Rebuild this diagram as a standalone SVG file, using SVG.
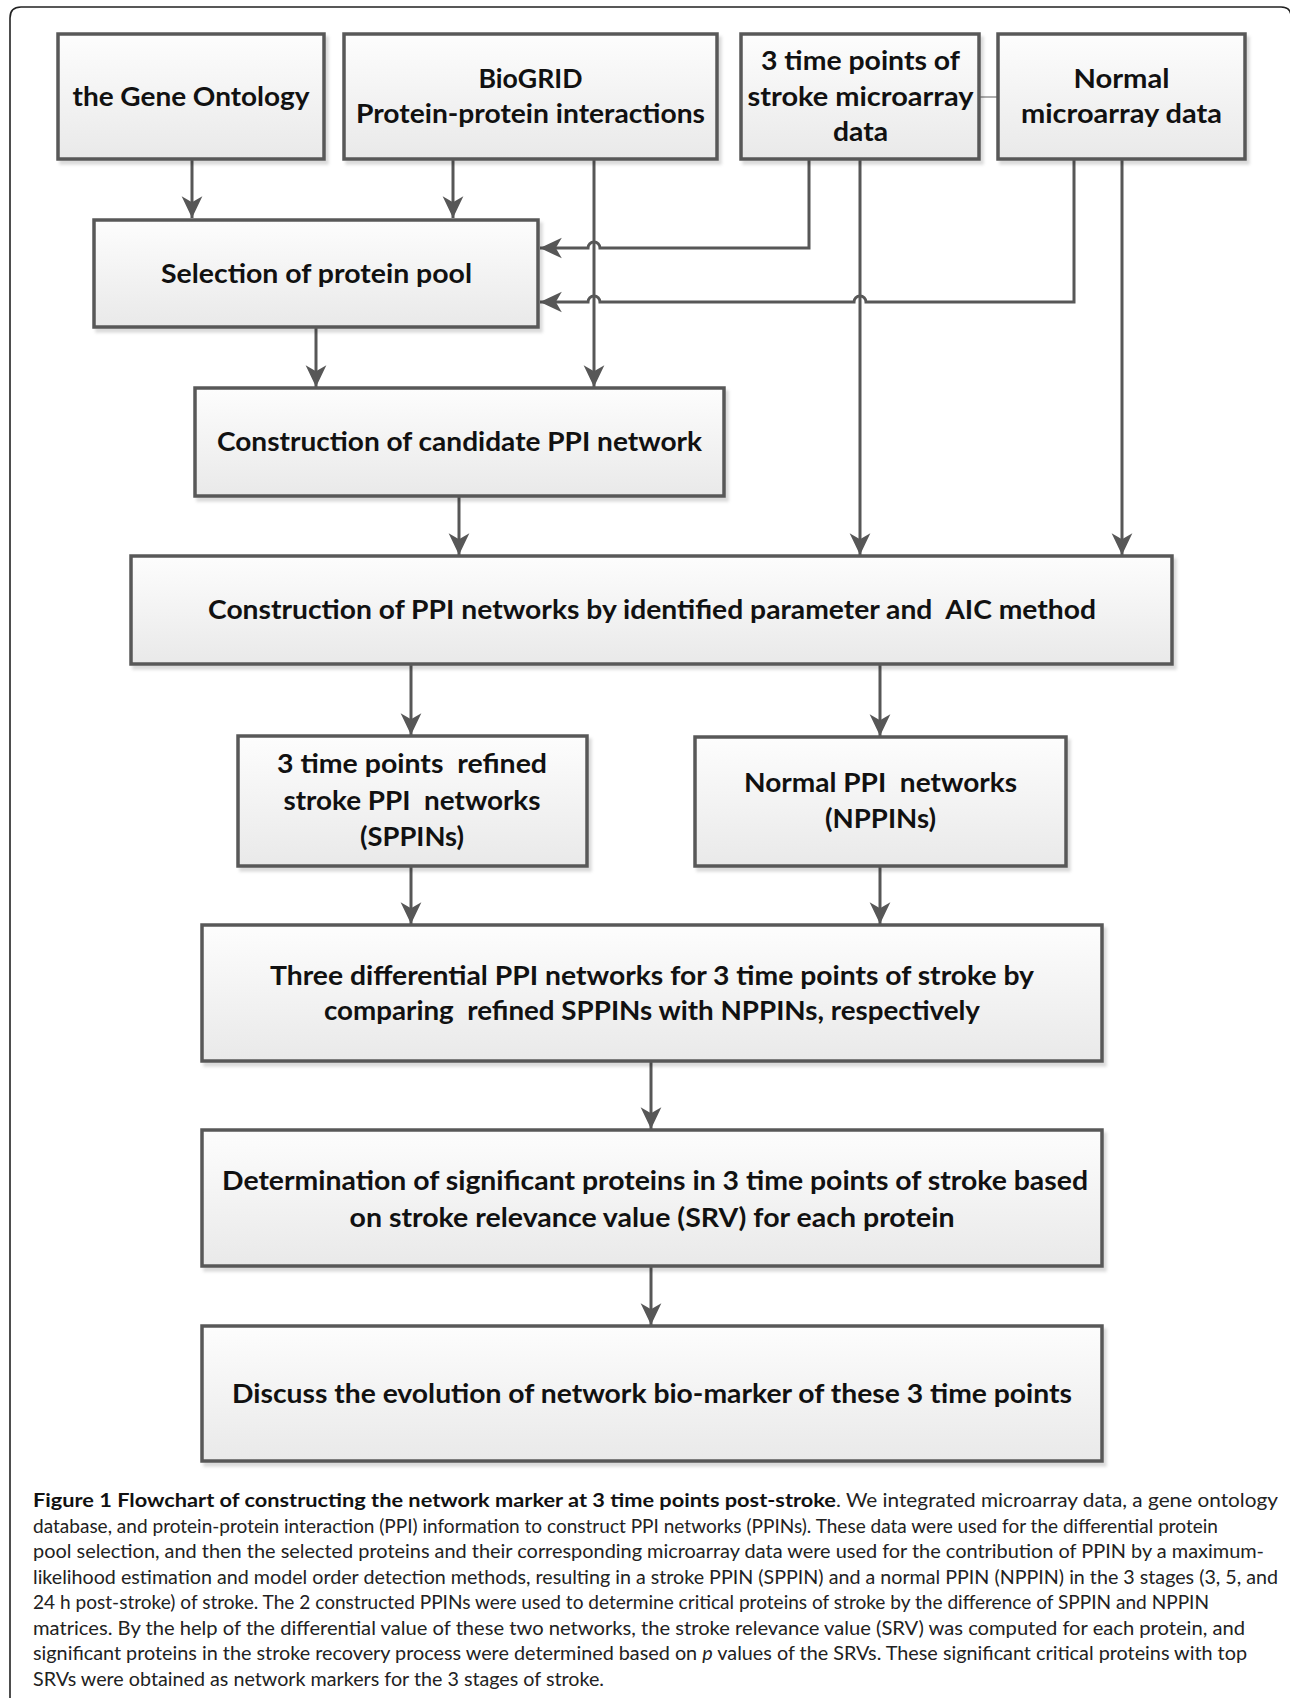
<svg xmlns="http://www.w3.org/2000/svg" width="1290" height="1698" viewBox="0 0 1290 1698">
  <style>
    .box { fill: url(#boxGrad); stroke: #585858; stroke-width: 3.5; filter: url(#shadow); }
    .lbl { font-family: Lato, "Liberation Sans", sans-serif; font-weight: bold; font-size: 27px; fill: #111; text-anchor: middle; white-space: pre; }
    .wire { fill: none; stroke: #575757; stroke-width: 3; }
    .arrow { fill: none; stroke: #575757; stroke-width: 3; marker-end: url(#head); }
    .cap { font-family: Lato, "Liberation Sans", sans-serif; font-size: 18.5px; fill: #222; }
    .capb { font-family: Lato, "Liberation Sans", sans-serif; font-size: 18.5px; font-weight: bold; fill: #111; }
  </style>
  <defs>
    <linearGradient id="boxGrad" x1="0" y1="0" x2="0" y2="1">
      <stop offset="0" stop-color="#fdfdfd"/>
      <stop offset="1" stop-color="#e9e9e9"/>
    </linearGradient>
    <filter id="shadow" x="-5%" y="-5%" width="115%" height="120%">
      <feDropShadow dx="3" dy="4" stdDeviation="1.5" flood-color="#000" flood-opacity="0.14"/>
    </filter>
    <marker id="head" markerUnits="userSpaceOnUse" markerWidth="24" markerHeight="24" viewBox="-21 -11 22 22" refX="0" refY="0" orient="auto">
      <path d="M0,0 L-20,-9.5 L-14.5,0 L-20,9.5 Z" fill="#575757"/>
    </marker>
  </defs>

  <rect width="1290" height="1698" fill="#fff"/>
  <!-- outer figure frame -->
  <path d="M10,1698 L10,18 Q10,7 21,7 L1281,7 Q1290,7 1291,15" fill="none" stroke="#222" stroke-width="1.6"/>

  <!-- connectors -->
  <g id="connectors">
    <path class="arrow" d="M192,159 V218"/>
    <path class="arrow" d="M453,159 V218"/>
    <path class="arrow" d="M594,159 V387"/>
    <path class="arrow" d="M809,159 V248 H600 A6,6 0 0 0 588,248 H540"/>
    <path class="arrow" d="M1074,159 V302 H866 A6,6 0 0 0 854,302 H600 A6,6 0 0 0 588,302 H540"/>
    <path class="arrow" d="M860,159 V555"/>
    <path class="arrow" d="M1122,159 V555"/>
    <path class="wire" d="M979,97 H998" style="stroke-width:1.2;stroke:#777"/>
    <path class="arrow" d="M316,327 V387"/>
    <path class="arrow" d="M459,496 V555"/>
    <path class="arrow" d="M411,664 V735"/>
    <path class="arrow" d="M880,664 V736"/>
    <path class="arrow" d="M411,866 V924"/>
    <path class="arrow" d="M880,866 V924"/>
    <path class="arrow" d="M651,1061 V1129"/>
    <path class="arrow" d="M651,1266 V1325"/>
  </g>

  <g id="gene-ontology">
    <rect class="box" x="58" y="34" width="266" height="125"/>
    <text class="lbl" x="191" y="106" textLength="237" lengthAdjust="spacingAndGlyphs">the Gene Ontology</text>
  </g>
  <g id="biogrid">
    <rect class="box" x="344" y="34" width="373" height="125"/>
    <text class="lbl" x="530.5" y="87.5" textLength="104" lengthAdjust="spacingAndGlyphs">BioGRID</text>
    <text class="lbl" x="530.5" y="123" textLength="349" lengthAdjust="spacingAndGlyphs">Protein-protein interactions</text>
  </g>
  <g id="stroke-microarray">
    <rect class="box" x="741" y="34" width="238" height="125"/>
    <text class="lbl" x="860.5" y="70" textLength="199" lengthAdjust="spacingAndGlyphs">3 time points of</text>
    <text class="lbl" x="860.5" y="106" textLength="226" lengthAdjust="spacingAndGlyphs">stroke microarray</text>
    <text class="lbl" x="860.5" y="141" textLength="55" lengthAdjust="spacingAndGlyphs">data</text>
  </g>
  <g id="normal-microarray">
    <rect class="box" x="998" y="34" width="247" height="125"/>
    <text class="lbl" x="1121.5" y="87.5" textLength="96" lengthAdjust="spacingAndGlyphs">Normal</text>
    <text class="lbl" x="1121.5" y="123" textLength="201" lengthAdjust="spacingAndGlyphs">microarray data</text>
  </g>
  <g id="protein-pool">
    <rect class="box" x="94" y="220" width="444" height="107"/>
    <text class="lbl" x="316.5" y="282.5" textLength="311" lengthAdjust="spacingAndGlyphs">Selection of protein pool</text>
  </g>
  <g id="candidate-ppi">
    <rect class="box" x="195" y="388" width="529" height="108"/>
    <text class="lbl" x="459.5" y="450.5" textLength="485" lengthAdjust="spacingAndGlyphs">Construction of candidate PPI network</text>
  </g>
  <g id="aic-networks">
    <rect class="box" x="131" y="556" width="1041" height="108"/>
    <text class="lbl" x="652" y="618.5" textLength="888" lengthAdjust="spacingAndGlyphs">Construction of PPI networks by identified parameter and  AIC method</text>
  </g>
  <g id="sppins">
    <rect class="box" x="238" y="736" width="349" height="130"/>
    <text class="lbl" x="412" y="773" textLength="270" lengthAdjust="spacingAndGlyphs">3 time points  refined</text>
    <text class="lbl" x="412" y="809.5" textLength="257" lengthAdjust="spacingAndGlyphs">stroke PPI  networks</text>
    <text class="lbl" x="412" y="845.5" textLength="104" lengthAdjust="spacingAndGlyphs">(SPPINs)</text>
  </g>
  <g id="nppins">
    <rect class="box" x="695" y="737" width="371" height="129"/>
    <text class="lbl" x="880.5" y="791.5" textLength="273" lengthAdjust="spacingAndGlyphs">Normal PPI  networks</text>
    <text class="lbl" x="880.5" y="827.5" textLength="111" lengthAdjust="spacingAndGlyphs">(NPPINs)</text>
  </g>
  <g id="differential-ppi">
    <rect class="box" x="202" y="925" width="900" height="136"/>
    <text class="lbl" x="652" y="984.5" textLength="764" lengthAdjust="spacingAndGlyphs">Three differential PPI networks for 3 time points of stroke by</text>
    <text class="lbl" x="652" y="1020" textLength="656" lengthAdjust="spacingAndGlyphs">comparing  refined SPPINs with NPPINs, respectively</text>
  </g>
  <g id="significant-proteins">
    <rect class="box" x="202" y="1130" width="900" height="136"/>
    <text class="lbl" x="655" y="1190" textLength="866" lengthAdjust="spacingAndGlyphs">Determination of significant proteins in 3 time points of stroke based</text>
    <text class="lbl" x="652" y="1227" textLength="605" lengthAdjust="spacingAndGlyphs">on stroke relevance value (SRV) for each protein</text>
  </g>
  <g id="bio-marker">
    <rect class="box" x="202" y="1326" width="900" height="135"/>
    <text class="lbl" x="652" y="1402.5" textLength="840" lengthAdjust="spacingAndGlyphs">Discuss the evolution of network bio-marker of these 3 time points</text>
  </g>

  <!-- figure caption -->
  <g id="caption">
    <text class="capb" x="33" y="1507" textLength="803" lengthAdjust="spacingAndGlyphs">Figure 1 Flowchart of constructing the network marker at 3 time points post-stroke</text>
    <text class="cap" x="836" y="1507" textLength="442" lengthAdjust="spacingAndGlyphs">. We integrated microarray data, a gene ontology</text>
    <text class="cap" x="33" y="1532.5" textLength="1185" lengthAdjust="spacingAndGlyphs">database, and protein-protein interaction (PPI) information to construct PPI networks (PPINs). These data were used for the differential protein</text>
    <text class="cap" x="33" y="1558" textLength="1231" lengthAdjust="spacingAndGlyphs">pool selection, and then the selected proteins and their corresponding microarray data were used for the contribution of PPIN by a maximum-</text>
    <text class="cap" x="33" y="1583.5" textLength="1245" lengthAdjust="spacingAndGlyphs">likelihood estimation and model order detection methods, resulting in a stroke PPIN (SPPIN) and a normal PPIN (NPPIN) in the 3 stages (3, 5, and</text>
    <text class="cap" x="33" y="1609" textLength="1176" lengthAdjust="spacingAndGlyphs">24 h post-stroke) of stroke. The 2 constructed PPINs were used to determine critical proteins of stroke by the difference of SPPIN and NPPIN</text>
    <text class="cap" x="33" y="1634.5" textLength="1212" lengthAdjust="spacingAndGlyphs">matrices. By the help of the differential value of these two networks, the stroke relevance value (SRV) was computed for each protein, and</text>
    <text class="cap" x="33" y="1660" textLength="1214" lengthAdjust="spacingAndGlyphs">significant proteins in the stroke recovery process were determined based on <tspan font-style="italic">p</tspan> values of the SRVs. These significant critical proteins with top</text>
    <text class="cap" x="33" y="1686" textLength="571" lengthAdjust="spacingAndGlyphs">SRVs were obtained as network markers for the 3 stages of stroke.</text>
  </g>
</svg>
